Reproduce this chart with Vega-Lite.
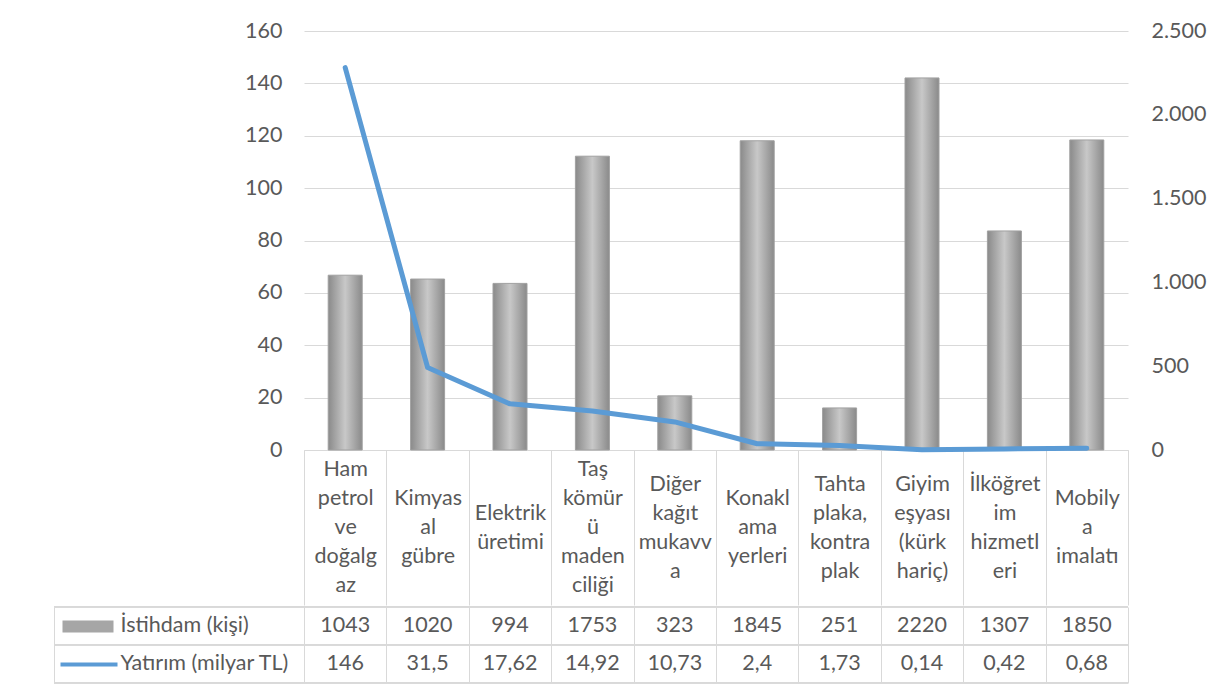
{
  "$schema": "https://vega.github.io/schema/vega-lite/v6.json",
  "padding": {"left": 48, "top": 20, "right": 10, "bottom": 5},
  "spacing": 0,
  "background": "white",
  "config": {
    "view": {"stroke": null},
    "font": "Lato",
    "locale": {"number": {"decimal": ",", "thousands": ".", "grouping": [3], "currency": ["", " TL"]}},
    "axis": {"labelFont": "Lato", "labelFontSize": 21.5, "labelColor": "#595959", "title": null},
    "text": {"font": "Lato", "fontSize": 21.5, "color": "#595959"}
  },
  "datasets": {
    "rows": [
      {"cat": "Ham|petrol|ve|doğalg|az", "istihdam": 1043, "yatirim": 146},
      {"cat": "Kimyas|al|gübre", "istihdam": 1020, "yatirim": 31.5},
      {"cat": "Elektrik|üretimi", "istihdam": 994, "yatirim": 17.62},
      {"cat": "Taş|kömür|ü|maden|ciliği", "istihdam": 1753, "yatirim": 14.92},
      {"cat": "Diğer|kağıt|mukavv|a", "istihdam": 323, "yatirim": 10.73},
      {"cat": "Konakl|ama|yerleri", "istihdam": 1845, "yatirim": 2.4},
      {"cat": "Tahta|plaka,|kontra|plak", "istihdam": 251, "yatirim": 1.73},
      {"cat": "Giyim|eşyası|(kürk|hariç)", "istihdam": 2220, "yatirim": 0.14},
      {"cat": "İlköğret|im|hizmetl|eri", "istihdam": 1307, "yatirim": 0.42},
      {"cat": "Mobily|a|imalatı", "istihdam": 1850, "yatirim": 0.68}
    ]
  },
  "vconcat": [
    {
      "width": 1074,
      "height": 419,
      "data": {"name": "rows"},
      "encoding": {
        "x": {
          "field": "cat", "type": "nominal", "sort": null,
          "scale": {"range": [250, 1074], "paddingInner": 0, "paddingOuter": 0},
          "axis": {
            "orient": "bottom",
            "labelExpr": "split(datum.label, '|')",
            "labelAngle": 0,
            "labelAlign": "center",
            "labelBaseline": "middle",
            "labelPadding": {
              "condition": [
                {"test": "length(split(datum.label, '|')) === 5", "value": -135.5},
                {"test": "length(split(datum.label, '|')) === 4", "value": -121},
                {"test": "length(split(datum.label, '|')) === 3", "value": -106.5}
              ],
              "value": -92
            },
            "labelLineHeight": 29,
            "labelOverlap": false,
            "labelLimit": 400,
            "ticks": true,
            "tickBand": "extent",
            "tickSize": 155,
            "tickColor": "#D9D9D9",
            "domain": true,
            "domainColor": "#D9D9D9",
            "grid": false
          }
        }
      },
      "layer": [
        {
          "mark": {
            "type": "bar",
            "width": 34,
            "color": {
              "gradient": "linear", "x1": 0, "y1": 0, "x2": 1, "y2": 0,
              "stops": [
                {"offset": 0, "color": "#8a8a8a"},
                {"offset": 0.5, "color": "#c8c8c8"},
                {"offset": 1, "color": "#8a8a8a"}
              ]
            },
            "stroke": "#a0a0a0",
            "strokeWidth": 1
          },
          "encoding": {
            "y": {
              "field": "istihdam", "type": "quantitative",
              "scale": {"domain": [0, 2500], "nice": false},
              "axis": {
                "orient": "right",
                "values": [0, 500, 1000, 1500, 2000, 2500],
                "format": ",.0f",
                "grid": false, "domain": false, "ticks": false,
                "labelPadding": 23
              }
            }
          }
        },
        {
          "mark": {"type": "line", "color": "#5B9BD5", "strokeWidth": 5, "strokeCap": "round", "strokeJoin": "round"},
          "encoding": {
            "y": {
              "field": "yatirim", "type": "quantitative",
              "scale": {"domain": [0, 160], "nice": false},
              "axis": {
                "orient": "left",
                "offset": -250,
                "values": [0, 20, 40, 60, 80, 100, 120, 140, 160],
                "grid": true, "gridColor": "#D9D9D9", "gridWidth": 1,
                "domain": false, "ticks": false,
                "labelPadding": 22
              }
            }
          }
        }
      ],
      "resolve": {"scale": {"y": "independent"}}
    },
    {
      "width": 1074,
      "height": 76,
      "data": {"name": "rows"},
      "transform": [{"fold": ["istihdam", "yatirim"], "as": ["series", "value"]}],
      "layer": [
        {
          "mark": {"type": "rule", "color": "#D9D9D9", "strokeWidth": 1},
          "encoding": {
            "y": {"field": "series", "type": "nominal", "bandPosition": 0}
          }
        },
        {
          "mark": {"type": "rule", "color": "#D9D9D9", "strokeWidth": 1},
          "encoding": {
            "y": {"field": "series", "type": "nominal", "bandPosition": 1}
          }
        },
        {
          "mark": {"type": "text", "align": "center", "baseline": "middle"},
          "encoding": {
            "x": {
              "field": "cat", "type": "nominal", "sort": null,
              "scale": {"range": [250, 1074], "paddingInner": 0, "paddingOuter": 0},
              "axis": {
                "orient": "bottom",
                "labels": false, "ticks": false, "domain": false,
                "grid": true, "tickBand": "extent", "gridColor": "#D9D9D9", "gridWidth": 1
              }
            },
            "y": {
              "field": "series", "type": "nominal",
              "scale": {"domain": ["istihdam", "yatirim"], "paddingInner": 0, "paddingOuter": 0},
              "axis": {
                "orient": "left",
                "domain": true, "domainColor": "#D9D9D9",
                "grid": false,
                "ticks": true,
                "tickSize": -63,
                "tickCap": "butt",
                "tickColor": {"condition": {"test": "datum.value === 'istihdam'", "value": "#a6a6a6"}, "value": "#5B9BD5"},
                "tickWidth": {"condition": {"test": "datum.value === 'istihdam'", "value": 12}, "value": 4},
                "tickDash": {"condition": {"test": "datum.value === 'istihdam'", "value": [0, 8, 51, 1000]}, "value": [0, 6, 57, 1000]},
                "labelExpr": "datum.value === 'istihdam' ? 'İstihdam (kişi)' : 'Yatırım (milyar TL)'",
                "labelAlign": "left",
                "labelBaseline": "middle",
                "labelPadding": -3,
                "labelLimit": 400
              }
            },
            "text": {"field": "value", "type": "quantitative", "format": "~f"}
          }
        }
      ]
    }
  ]
}
